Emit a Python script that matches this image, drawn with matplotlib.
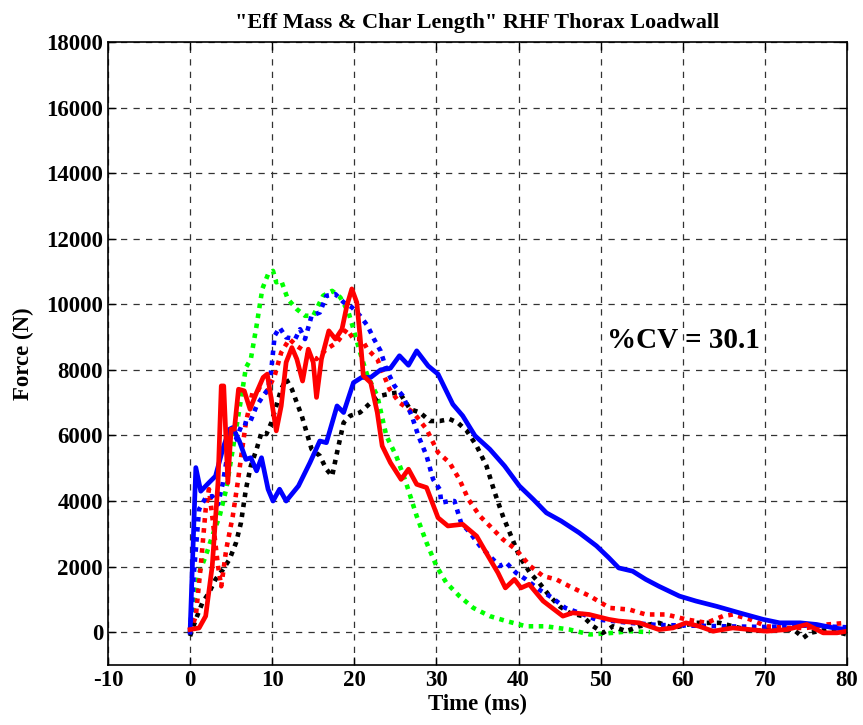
import matplotlib
matplotlib.use("Agg")
import matplotlib.pyplot as plt

# Time (ms) / Force (N)
blue_solid_t = [0, 0.7, 1.3, 2.3, 3.1, 4.0, 4.8, 5.2, 6.0, 6.8, 7.4, 8.1, 8.7, 9.5, 10.1,
                10.9, 11.7, 13.2, 14.6, 15.8, 16.6, 17.9, 18.7, 19.9, 20.9, 22.0, 23.2,
                24.4, 25.5, 26.6, 27.6, 29.0, 30.2, 32.0, 33.2, 34.7, 36.5, 38.3, 40.1,
                41.8, 43.4, 45.2, 47.4, 49.5, 51.0, 52.2, 53.9, 55.5, 57.1, 59.6, 61.6,
                64.1, 66.9, 69.8, 71.8, 74.3, 76.3, 78.4, 80.0]
blue_solid_f = [0, 5020, 4300, 4560, 4760, 5600, 6190, 6240, 5830, 5270, 5320, 4920, 5320,
                4360, 4000, 4360, 4000, 4460, 5170, 5830, 5780, 6900, 6700, 7610, 7770,
                7770, 8000, 8050, 8430, 8140, 8580, 8120, 7870, 6950, 6600, 5990, 5580,
                5070, 4460, 4050, 3640, 3390, 3030, 2630, 2270, 1960, 1860, 1610, 1400,
                1100, 950, 790, 590, 390, 285, 285, 235, 130, 80]

red_solid_t = [0, 1.1, 1.9, 2.7, 3.4, 3.8, 4.1, 4.6, 5.0, 5.4, 5.9, 6.6, 7.3, 8.1, 8.9,
               9.4, 9.9, 10.5, 11.1, 11.7, 12.4, 13.0, 13.7, 14.4, 15.0, 15.4, 16.0, 16.9,
               17.7, 18.5, 19.1, 19.7, 20.3, 20.7, 21.1, 22.0, 22.8, 23.4, 24.4, 25.7,
               26.6, 27.6, 28.8, 30.2, 31.4, 33.2, 34.9, 36.3, 37.5, 38.4, 39.5, 40.3,
               41.3, 43.0, 45.4, 46.6, 48.6, 51.0, 52.2, 54.7, 57.1, 58.8, 60.4, 62.0,
               63.7, 66.1, 68.2, 70.2, 72.7, 75.1, 77.1, 78.8, 80.0]
red_solid_f = [80, 130, 490, 2020, 4560, 7510, 7510, 4560, 6190, 6190, 7410, 7360, 6800,
               7310, 7770, 7870, 7100, 6140, 6900, 8230, 8680, 8330, 7660, 8630, 8230,
               7160, 8330, 9190, 8940, 9240, 9960, 10470, 10060, 9040, 7820, 7610, 6700,
               5680, 5170, 4660, 4970, 4510, 4410, 3490, 3240, 3290, 2930, 2320, 1810,
               1350, 1610, 1350, 1460, 950, 490, 590, 540, 390, 340, 285, 80, 130, 285,
               180, 30, 130, 80, 30, 80, 235, -20, -20, 30]

green_dot_t = [0, 0.5, 1.1, 1.9, 2.7, 3.6, 4.4, 5.2, 6.2, 6.8, 7.4, 8.1, 8.8, 9.5, 10.1,
               10.5, 11.1, 11.9, 13.0, 14.0, 15.0, 16.2, 17.3, 18.3, 19.3, 19.9, 20.7,
               21.6, 22.8, 23.9, 25.1, 26.3, 27.6, 28.8, 30.0, 31.2, 32.8, 34.5, 36.5,
               38.5, 40.9, 43.3, 46.2, 48.7, 51.5, 53.5, 56.0]
green_dot_f = [0, 900, 1810, 2320, 2930, 3540, 4360, 5580, 7100, 8070, 8330, 9350, 10470,
               10920, 11020, 10670, 10720, 10160, 9850, 9650, 9650, 10260, 10410, 10210,
               9750, 9240, 8530, 7820, 7210, 5990, 5380, 4560, 3540, 2730, 2020, 1510,
               1100, 740, 490, 340, 180, 180, 80, -70, -20, 30, 0]

blue_dot_t = [0, 0.5, 1.1, 1.9, 2.7, 3.4, 4.0, 4.8, 5.6, 6.4, 7.2, 8.1, 8.9, 9.5, 9.9,
              10.3, 10.9, 11.7, 12.8, 13.4, 14.0, 14.8, 15.8, 16.6, 17.7, 18.7, 19.7,
              20.7, 21.6, 22.4, 23.2, 23.9, 24.9, 25.9, 27.0, 27.8, 28.8, 29.6, 30.4,
              30.6, 31.6, 32.2, 33.0, 34.1, 35.3, 36.5, 37.7, 38.5, 39.7, 40.9, 42.5,
              44.1, 45.7, 47.4, 49.4, 51.5, 53.5, 57.0, 61.0, 65.0, 70.0, 75.0, 80.0]
blue_dot_f = [0, 1910, 3750, 4100, 4150, 3900, 4560, 5780, 5880, 6390, 6340, 6900, 7210,
              7410, 8020, 9040, 9290, 8990, 8940, 9240, 8940, 9650, 9750, 10260, 10310,
              10060, 9910, 9650, 9350, 8940, 8580, 8020, 7510, 7210, 6600, 5990, 5380,
              4660, 4360, 3950, 4000, 4000, 3340, 3030, 2630, 2320, 2020, 2120, 1810,
              1610, 1300, 1050, 740, 590, 390, 340, 285, 220, 200, 180, 160, 200, 150]

red_dot_t = [0, 0.7, 1.3, 1.9, 2.3, 2.7, 3.4, 3.8, 4.4, 5.2, 5.8, 6.4, 6.8, 7.6, 8.5, 9.3,
             10.3, 11.1, 12.1, 13.0, 14.2, 15.4, 16.6, 17.9, 19.1, 19.9, 20.9, 21.6, 22.8,
             24.3, 25.5, 27.2, 28.8, 30.2, 31.6, 32.8, 33.9, 35.3, 36.5, 38.1, 39.7, 41.4,
             43.0, 44.6, 46.2, 48.7, 51.1, 53.5, 55.5, 58.0, 60.4, 62.9, 64.9, 66.1,
             68.2, 70.2, 72.7, 75.1, 77.6, 80.0]
red_dot_f = [0, 490, 2020, 3750, 4360, 3540, 2020, 1400, 2520, 3540, 4560, 5680, 6390,
             7310, 7410, 7310, 7820, 8530, 8940, 8730, 8530, 8330, 8630, 8840, 9240, 8940,
             8940, 8630, 8330, 7410, 7000, 6700, 6190, 5480, 5170, 4660, 4050, 3540, 3240,
             2830, 2520, 2020, 1710, 1610, 1400, 1100, 740, 690, 540, 540, 390, 285, 490,
             540, 390, 180, 130, 130, 235, 285]

black_dot_t = [0, 0.7, 1.5, 2.3, 3.1, 4.0, 4.8, 5.6, 6.2, 6.8, 7.4, 8.1, 8.7, 9.3, 9.9,
               10.5, 11.1, 11.7, 12.4, 13.0, 13.6, 14.2, 14.8, 15.8, 16.6, 17.3, 17.9,
               18.7, 19.5, 20.7, 22.0, 23.2, 24.4, 25.5, 26.8, 28.0, 29.2, 30.4, 31.6,
               32.6, 33.7, 34.9, 36.1, 37.1, 38.1, 39.1, 40.1, 41.4, 42.5, 43.8, 45.0,
               46.2, 47.8, 49.1, 50.3, 51.5, 53.1, 54.7, 57.1, 58.8, 61.6, 64.5, 66.1,
               68.6, 70.6, 73.5, 74.7, 75.5, 77.6, 80.0]
black_dot_f = [-120, 390, 900, 1200, 1610, 1910, 2220, 2730, 3340, 4360, 5070, 5580, 6090,
               6040, 6390, 6900, 7410, 7720, 7410, 7000, 6600, 6090, 5580, 5380, 4970,
               4760, 5480, 6390, 6600, 6700, 7000, 7210, 7280, 7310, 6800, 6700, 6440,
               6440, 6500, 6390, 6140, 5680, 5070, 4260, 3540, 2930, 2320, 1810, 1510,
               1100, 790, 590, 490, 180, -20, 180, 30, 180, 285, 130, 285, 285, 180, 30,
               80, 80, -170, -20, 80, -70]

plt.rcParams["font.family"] = ["Liberation Serif", "DejaVu Serif"]
plt.rcParams["font.weight"] = "bold"
plt.rcParams["axes.unicode_minus"] = False

fig = plt.figure(figsize=(8.63, 7.25), dpi=100)
ax = fig.add_axes([0.1251, 0.0828, 0.8563, 0.8593])

dot = dict(linestyle=(0, (1, 1.2)), linewidth=3.3, dash_capstyle="butt")
ax.plot(green_dot_t, green_dot_f, color="#00ff00", **dot)
ax.plot(black_dot_t, black_dot_f, color="black", **dot)
ax.plot(red_dot_t, red_dot_f, color="red", **dot)
ax.plot(blue_dot_t, blue_dot_f, color="blue", **dot)
ax.plot(blue_solid_t, blue_solid_f, color="blue", linewidth=3.4)
ax.plot(red_solid_t, red_solid_f, color="red", linewidth=3.4)

ax.set_xlim(-10, 80)
ax.set_ylim(-1000, 18000)
ax.set_xticks(range(-10, 81, 10))
ax.set_yticks(range(0, 18001, 2000))
ax.tick_params(direction="in", length=6, width=1, labelsize=16.5,
               top=True, right=True)
for lbl in ax.get_xticklabels() + ax.get_yticklabels():
    lbl.set_fontweight("bold")
for s in ax.spines.values():
    s.set_linewidth(1.2)

ax.grid(True, color="0.2", linestyle=(0, (5, 5)), linewidth=0.9)

ax.set_title('"Eff Mass & Char Length" RHF Thorax Loadwall',
             fontsize=16, fontweight="bold", pad=10)
ax.set_xlabel("Time (ms)", fontsize=16.5, fontweight="bold", labelpad=2)
ax.set_ylabel("Force (N)", fontsize=16.5, fontweight="bold", labelpad=9)

ax.text(50.8, 8680, "%CV = 30.1", fontsize=21, fontweight="bold",
        ha="left", va="baseline")

fig.savefig("out.png", dpi=100)
